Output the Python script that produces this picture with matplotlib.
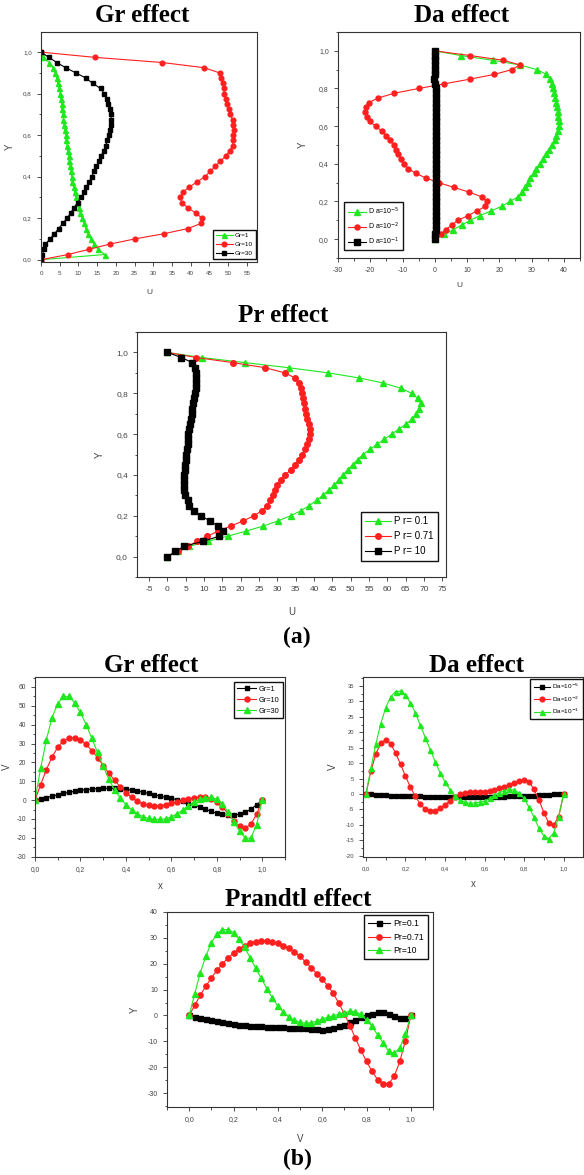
import matplotlib
matplotlib.use("Agg")
import matplotlib.pyplot as plt
from matplotlib.ticker import MultipleLocator, FuncFormatter

plt.rcParams['axes.unicode_minus'] = False
plt.rcParams['font.family'] = ['Liberation Sans', 'DejaVu Sans']

# ---------------- data ----------------
GRID = [0.0, 0.025, 0.05, 0.075, 0.1, 0.125, 0.15, 0.175, 0.2, 0.225, 0.25, 0.275,
        0.3, 0.325, 0.35, 0.375, 0.4, 0.425, 0.45, 0.475, 0.5, 0.525, 0.55, 0.575,
        0.6, 0.625, 0.65, 0.675, 0.7, 0.725, 0.75, 0.775, 0.8, 0.825, 0.85, 0.875,
        0.9, 0.925, 0.95, 0.975, 1.0]

# (a) U profiles vs Y
gr1_u = [0, 17.0, 15.3, 14.2, 13.3, 12.6, 12.0, 11.5, 11.0, 10.5, 10.1, 9.7, 9.3, 9.0,
         8.7, 8.4, 8.2, 8.0, 7.8, 7.6, 7.4, 7.2, 7.0, 6.8, 6.6, 6.4, 6.2, 6.0, 5.9, 5.7,
         5.5, 5.3, 5.1, 4.9, 4.5, 4.2, 3.8, 3.2, 2.2, 0.5, 0]
gr10_u = [0, 7.2, 12.8, 18.3, 25.0, 32.8, 39.2, 42.8, 43.0, 41.4, 39.2, 37.6, 37.2, 37.9,
          39.6, 41.7, 43.8, 45.2, 46.6, 47.9, 49.4, 50.4, 51.2, 51.3, 51.4, 51.5, 51.4,
          51.2, 50.5, 50.2, 49.8, 49.5, 49.0, 48.8, 48.6, 48.2, 47.7, 43.6, 32.4, 14.3, 0]
gr30_u = [0, 0.4, 0.8, 1.2, 2.4, 3.6, 4.7, 5.8, 7.0, 7.9, 8.8, 9.8, 10.7, 11.5, 12.1,
          12.9, 13.5, 14.2, 14.8, 15.5, 16.1, 16.7, 17.3, 17.7, 18.2, 18.4, 18.6, 18.7,
          18.7, 18.5, 18.0, 17.5, 16.9, 15.9, 13.8, 12.0, 9.3, 6.6, 4.2, 2.1, 0]

da5_u = [0, 3.0, 5.7, 8.3, 10.9, 14.0, 17.4, 20.8, 23.3, 25.8, 27.1, 28.1, 28.9, 29.6,
         30.6, 31.5, 32.6, 33.6, 34.5, 35.3, 36.4, 37.2, 37.7, 38.1, 38.4, 38.4, 38.3,
         38.1, 37.8, 37.6, 37.2, 36.9, 36.6, 36.2, 35.7, 34.6, 31.7, 26.4, 17.9, 8.0, 0]
da2_u = [0, 1.8, 3.4, 5.2, 7.2, 10.3, 13.1, 15.7, 16.2, 14.5, 10.6, 5.9, 1.2, -2.8, -5.9,
         -8.3, -9.5, -10.5, -11.4, -12.1, -12.7, -14.0, -15.0, -16.5, -18.3, -20.2, -21.0,
         -21.6, -21.4, -20.5, -17.5, -12.5, -5.0, 3.0, 11.0, 18.5, 23.8, 26.4, 21.2, 10.9, 0]
da1_u = [0, 0.2, 0.3, 0.3, 0.3, 0.3, 0.3, 0.3, 0.3, 0.3, 0.3, 0.3, 0.3, 0.3, 0.3, 0.3,
         0.3, 0.3, 0.3, 0.3, 0.3, 0.3, 0.3, 0.3, 0.3, 0.3, 0.3, 0.3, 0.3, 0.3, 0.3, 0.3,
         0.3, 0.2, -0.2, 0.2, 0.2, 0.2, 0.2, 0.1, 0]

pr01_u = [0, 3.0, 6.0, 11.0, 16.5, 21.5, 26.2, 30.2, 33.6, 36.5, 38.7, 40.7, 42.4, 44.0,
          45.4, 46.7, 47.9, 49.2, 50.5, 51.9, 53.4, 55.2, 57.2, 59.2, 61.2, 63.2, 65.2,
          66.8, 67.9, 68.7, 69.1, 68.3, 66.6, 63.6, 58.9, 52.3, 43.8, 33.1, 21.2, 9.4, 0]
pr071_u = [0, 2.9, 5.6, 8.0, 10.9, 13.9, 17.3, 20.7, 23.6, 25.8, 27.2, 28.0, 28.7, 29.3,
           30.0, 31.0, 32.2, 33.6, 34.8, 35.9, 36.8, 37.5, 38.1, 38.6, 38.8, 38.8, 38.6,
           38.2, 37.8, 37.4, 37.2, 37.0, 36.8, 36.5, 36.0, 34.8, 32.0, 26.7, 17.9, 7.9, 0]
pr10_u = [0, 2.1, 4.5, 9.8, 14.1, 15.2, 13.8, 11.6, 9.1, 7.2, 6.0, 5.5, 4.9, 4.5, 4.4,
          4.5, 4.5, 4.7, 4.8, 5.0, 5.1, 5.3, 5.5, 5.6, 5.7, 5.9, 6.1, 6.4, 6.6, 6.8, 7.1,
          7.3, 7.6, 7.7, 7.7, 7.7, 7.7, 7.5, 6.8, 3.8, 0]

# (b) V profiles vs x
gr1_v = [0, 0.6, 1.3, 2.0, 2.8, 3.5, 4.1, 4.7, 5.2, 5.6, 5.9, 6.1, 6.2, 6.3, 6.2, 6.0,
         5.7, 5.3, 4.8, 4.2, 3.5, 2.8, 2.1, 1.5, 0.9, 0.2, -0.6, -1.5, -2.6, -3.7, -4.9,
         -6.0, -7.0, -7.6, -8.0, -8.0, -7.5, -6.5, -4.8, -2.5, 0]
gr10_v = [0, 8.2, 16.2, 22.8, 28.0, 31.5, 33.0, 33.2, 32.0, 29.5, 26.3, 22.5, 18.2, 14.3,
          10.5, 7.0, 4.0, 1.4, -0.6, -2.0, -2.8, -3.2, -3.0, -2.5, -1.8, -1.0, -0.2, 0.6,
          1.2, 1.5, 1.4, 0.5, -1.2, -3.8, -7.2, -11.0, -14.0, -14.8, -12.8, -7.5, 0]
gr30_v = [0, 17.0, 32.0, 43.8, 51.2, 55.0, 55.0, 51.5, 46.5, 40.0, 32.8, 25.3, 18.0, 11.0,
          5.5, 1.2, -2.5, -5.2, -7.3, -8.8, -9.7, -10.2, -10.3, -10.0, -9.0, -7.3, -5.2,
          -2.9, -1.0, 0.4, 1.2, 1.4, 0.5, -2.0, -6.5, -11.5, -16.5, -20.2, -20.2, -13.0, 0]

da5_v = [0, -0.1, -0.2, -0.3, -0.4, -0.5, -0.5, -0.6, -0.6, -0.7, -0.8, -0.8, -0.9, -0.9,
         -1.0, -1.0, -1.0, -1.1, -1.1, -1.1, -1.1, -1.1, -1.1, -1.1, -1.0, -1.0, -1.0,
         -0.9, -0.9, -0.8, -0.8, -0.7, -0.7, -0.6, -0.5, -0.4, -0.3, -0.2, -0.1, 0.0, 0]
da2_v = [0, 7.5, 13.0, 16.5, 17.6, 16.2, 13.3, 9.6, 5.8, 2.2, -0.8, -3.3, -5.0, -5.6, -5.4,
         -4.6, -3.5, -2.2, -1.0, -0.1, 0.4, 0.6, 0.7, 0.7, 0.75, 1.0, 1.3, 1.9, 2.4, 2.9,
         3.7, 4.3, 4.7, 4.0, 1.5, -1.9, -6.0, -9.5, -10.0, -7.3, 0]
da1_v = [0, 8.3, 16.2, 22.8, 28.0, 31.5, 33.2, 33.3, 32.0, 29.5, 26.3, 22.3, 18.3, 14.4,
         10.5, 6.9, 3.8, 1.4, -0.5, -1.9, -2.7, -3.0, -2.9, -2.6, -2.3, -1.4, -0.3, 0.4,
         1.1, 1.5, 1.3, 0.2, -1.4, -4.3, -7.5, -11.1, -13.6, -14.5, -12.5, -7.3, 0]

pr01_v = [0, -0.6, -1.0, -1.5, -1.9, -2.3, -2.6, -2.8, -3.2, -3.5, -3.7, -3.9, -4.1, -4.2,
          -4.3, -4.4, -4.5, -4.6, -4.7, -4.8, -4.9, -5.0, -5.2, -5.4, -5.5, -5.1, -4.9,
          -4.2, -3.6, -2.6, -1.9, -0.7, 0.0, 0.7, 1.3, 1.2, 0.7, -0.3, -0.9, -0.9, 0]
pr071_v = [0, 3.9, 7.8, 11.3, 14.5, 17.4, 20.0, 22.2, 24.1, 25.7, 27.0, 27.9, 28.5, 28.7,
           28.7, 28.4, 27.9, 27.0, 25.9, 24.5, 22.8, 20.7, 18.5, 16.2, 14.0, 11.5, 8.6,
           4.7, 0.7, -3.9, -8.8, -13.5, -17.8, -21.6, -24.8, -26.4, -26.4, -23.6, -17.8,
           -10.0, 0]
pr10_v = [0, 8.4, 16.5, 22.9, 28.1, 31.5, 33.2, 33.2, 32.0, 29.6, 26.4, 22.3, 18.3, 14.4,
          10.4, 6.8, 3.6, 1.3, -0.6, -1.9, -2.6, -3.0, -2.8, -2.2, -1.4, -0.7, -0.1, 0.5,
          1.0, 1.7, 1.5, 0.4, -1.9, -4.2, -7.5, -10.7, -13.8, -14.6, -12.6, -7.1, 0]

# ---------------- styling ----------------
W, H = 584, 1175
GREEN = '#1fe81f'
RED = '#ff1f1f'
BLACK = '#000000'
TICKC = '#444444'

fig = plt.figure(figsize=(W / 100, H / 100), dpi=100)


def ax_at(l, r, t, b):
    return fig.add_axes([l / W, 1 - b / H, (r - l) / W, (b - t) / H])


comma = FuncFormatter(lambda v, p: ('%.1f' % v).replace('.', ','))
intf = FuncFormatter(lambda v, p: '%d' % round(v))


def style(ax, fs):
    for s in ax.spines.values():
        s.set_linewidth(0.8)
        s.set_color('#333333')
    ax.tick_params(which='both', direction='out', colors='#333333', labelcolor=TICKC,
                   labelsize=fs, width=0.6, top=False, right=False)
    ax.tick_params(which='major', length=3)
    ax.tick_params(which='minor', length=1.8)


def title(x, y, s, size=18):
    fig.text(x / W, 1 - y / H, s, ha='center', va='center', fontsize=size,
             fontweight='bold', family='Liberation Serif')


def series(ax, x, y, color, marker, ms, label):
    ax.plot(x, y, color=color, lw=0.8, marker=marker, ms=ms, mfc=color, mec=color,
            label=label)


def legend(ax, loc, anchor, fs):
    lg = ax.legend(loc=loc, bbox_to_anchor=anchor, fontsize=fs, frameon=True,
                   fancybox=False, framealpha=1, edgecolor='#111111',
                   handlelength=2.6, borderpad=0.5, labelspacing=0.5,
                   handletextpad=0.3, borderaxespad=0)
    lg.get_frame().set_linewidth(1.0)


# ---- Panel 1 : Gr effect (U) ----
ax1 = ax_at(41, 257, 32, 262)
series(ax1, gr1_u, GRID, GREEN, '^', 3.6, 'Gr=1')
series(ax1, gr10_u, GRID, RED, 'o', 3.4, 'Gr=10')
series(ax1, gr30_u, GRID, BLACK, 's', 3.2, 'Gr=30')
ax1.set_xlim(0, 57.7)
ax1.set_ylim(-0.011, 1.097)
ax1.xaxis.set_major_locator(MultipleLocator(5))
ax1.yaxis.set_major_locator(MultipleLocator(0.2))
ax1.yaxis.set_minor_locator(MultipleLocator(0.1))
ax1.yaxis.set_major_formatter(comma)
style(ax1, 4.5)
ax1.set_xlabel('U', fontsize=6, color=TICKC, labelpad=9)
ax1.set_ylabel('Y', fontsize=7, color=TICKC, labelpad=6)
legend(ax1, 'lower right', (0.995, 0.013), 4.6)
title(142, 16, 'Gr effect')

# ---- Panel 2 : Da effect (U) ----
ax2 = ax_at(338, 580, 32, 258)
series(ax2, da5_u, GRID, GREEN, '^', 3.8, r'D a=10$^{-5}$')
series(ax2, da2_u, GRID, RED, 'o', 3.6, r'D a=10$^{-2}$')
series(ax2, da1_u, GRID, BLACK, 's', 3.8, r'D a=10$^{-1}$')
ax2.set_xlim(-30, 45)
ax2.set_ylim(-0.1, 1.1)
ax2.xaxis.set_major_locator(MultipleLocator(10))
ax2.xaxis.set_minor_locator(MultipleLocator(5))
ax2.yaxis.set_major_locator(MultipleLocator(0.2))
ax2.yaxis.set_minor_locator(MultipleLocator(0.1))
ax2.yaxis.set_major_formatter(comma)
style(ax2, 5)
ax2.set_xlabel('U', fontsize=6, color=TICKC, labelpad=6)
ax2.set_ylabel('Y', fontsize=7, color=TICKC, labelpad=8)
legend(ax2, 'lower left', (0.025, 0.035), 5)
title(462, 15, 'Da effect')

# ---- Panel 3 : Pr effect (U) ----
ax3 = ax_at(137, 446, 332, 577)
series(ax3, pr01_u, GRID, GREEN, '^', 4.2, 'P r= 0.1')
series(ax3, pr071_u, GRID, RED, 'o', 4.0, 'P r= 0.71')
series(ax3, pr10_u, GRID, BLACK, 's', 3.8, 'P r= 10')
ax3.set_xlim(-8.3, 76)
ax3.set_ylim(-0.1, 1.1)
ax3.xaxis.set_major_locator(MultipleLocator(5))
ax3.yaxis.set_major_locator(MultipleLocator(0.2))
ax3.yaxis.set_minor_locator(MultipleLocator(0.1))
ax3.yaxis.set_major_formatter(comma)
ax3.xaxis.set_major_formatter(intf)
style(ax3, 6)
ax3.set_xlabel('U', fontsize=7, color=TICKC, labelpad=10)
ax3.set_ylabel('Y', fontsize=7, color=TICKC, labelpad=8)
legend(ax3, 'lower right', (0.974, 0.065), 7)
title(283, 316, 'Pr effect')

fig.text(297 / W, 1 - 637 / H, '(a)', ha='center', va='center', fontsize=17,
         fontweight='bold', family='Liberation Serif')

# ---- Panel 4 : Gr effect (V) ----
ax4 = ax_at(35, 285, 677, 857)
series(ax4, GRID, gr1_v, BLACK, 's', 3.4, 'Gr=1')
series(ax4, GRID, gr10_v, RED, 'o', 3.6, 'Gr=10')
series(ax4, GRID, gr30_v, GREEN, '^', 3.8, 'Gr=30')
ax4.set_xlim(0, 1.1)
ax4.set_ylim(-30.2, 65.3)
ax4.xaxis.set_major_locator(MultipleLocator(0.2))
ax4.xaxis.set_minor_locator(MultipleLocator(0.1))
ax4.yaxis.set_major_locator(MultipleLocator(10))
ax4.yaxis.set_minor_locator(MultipleLocator(5))
ax4.xaxis.set_major_formatter(comma)
style(ax4, 4.8)
ax4.set_xlabel('x', fontsize=7, color=TICKC, labelpad=6)
ax4.set_ylabel('V', fontsize=7, color=TICKC, labelpad=3)
legend(ax4, 'upper right', (0.992, 0.972), 5.3)
title(151, 665, 'Gr effect')

# ---- Panel 5 : Da effect (V) ----
ax5 = ax_at(363, 583, 677, 857)
series(ax5, GRID, da5_v, BLACK, 's', 3.2, r'Da=10$^{-5}$')
series(ax5, GRID, da2_v, RED, 'o', 3.4, r'Da=10$^{-2}$')
series(ax5, GRID, da1_v, GREEN, '^', 3.6, r'Da=10$^{-1}$')
ax5.set_xlim(-0.015, 1.098)
ax5.set_ylim(-20.4, 37.9)
ax5.xaxis.set_major_locator(MultipleLocator(0.2))
ax5.xaxis.set_minor_locator(MultipleLocator(0.1))
ax5.yaxis.set_major_locator(MultipleLocator(5))
ax5.yaxis.set_minor_locator(MultipleLocator(2.5))
ax5.xaxis.set_major_formatter(comma)
style(ax5, 4.2)
ax5.set_xlabel('x', fontsize=7, color=TICKC, labelpad=6)
ax5.set_ylabel('V', fontsize=7, color=TICKC, labelpad=5)
legend(ax5, 'upper right', (0.998, 0.99), 4.6)
title(477, 665, 'Da effect')

# ---- Panel 6 : Prandtl effect (V) ----
ax6 = ax_at(167, 433, 912, 1107)
series(ax6, GRID, pr01_v, BLACK, 's', 3.6, 'Pr=0.1')
series(ax6, GRID, pr071_v, RED, 'o', 3.8, 'Pr=0.71')
series(ax6, GRID, pr10_v, GREEN, '^', 4.0, 'Pr=10')
ax6.set_xlim(-0.1, 1.1)
ax6.set_ylim(-35.4, 40)
ax6.xaxis.set_major_locator(MultipleLocator(0.2))
ax6.xaxis.set_minor_locator(MultipleLocator(0.1))
ax6.yaxis.set_major_locator(MultipleLocator(10))
ax6.yaxis.set_minor_locator(MultipleLocator(5))
ax6.xaxis.set_major_formatter(comma)
ax6.yaxis.set_major_formatter(intf)
style(ax6, 5)
ax6.set_xlabel('V', fontsize=7, color=TICKC, labelpad=8)
ax6.set_ylabel('Y', fontsize=7, color=TICKC, labelpad=6)
legend(ax6, 'upper right', (0.981, 0.985), 6.2)
title(298, 899, 'Prandtl effect')

fig.text(297 / W, 1 - 1159 / H, '(b)', ha='center', va='center', fontsize=17,
         fontweight='bold', family='Liberation Serif')

fig.savefig('out.png', dpi=100)
